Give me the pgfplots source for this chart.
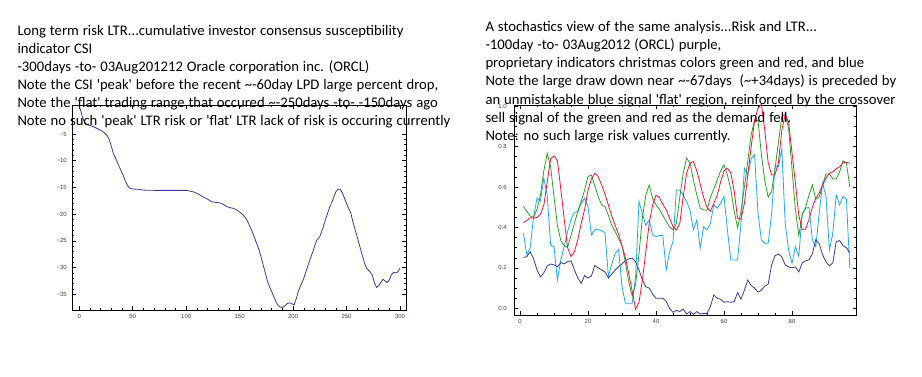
\documentclass[border=0pt]{standalone}
\usepackage{fontspec}
\setmainfont{Carlito}
\newfontfamily\tickfont{Liberation Sans}
\usepackage{pgfplots}
\pgfplotsset{compat=1.18}
\definecolor{ltr}{HTML}{3A3A98}
\definecolor{cred}{HTML}{F0143C}
\definecolor{cgreen}{HTML}{2AA02A}
\definecolor{clblue}{HTML}{22A6F0}
\definecolor{tickc}{HTML}{4A4030}
\newcommand\txtfont{\fontsize{14.67}{18}\selectfont\spaceskip 3.95pt plus 1pt minus 1pt\relax}

\pgfplotstableread{
x y
0 0.2
1 -0.4
3 -1.8
5 -2.9
8 -3.3
10 -3.4
13 -3.6
16 -3.9
20 -4.3
23 -4.7
26 -5.3
28 -6.0
30 -7.3
32 -8.7
35 -10.0
38 -11.4
41 -12.7
43 -13.8
45 -14.6
47 -15.1
50 -15.3
55 -15.35
60 -15.5
70 -15.55
80 -15.55
90 -15.55
100 -15.55
104 -15.7
108 -15.9
112 -16.3
116 -16.8
120 -17.2
124 -17.7
128 -17.8
132 -17.9
135 -18.2
138 -18.6
141 -18.8
144 -18.9
147 -19.2
150 -19.6
153 -20.1
156 -20.8
159 -22.0
162 -23.4
165 -25.0
168 -26.6
170 -28.0
172 -29.5
174 -31.0
176 -32.5
178 -33.6
180 -34.5
182 -35.5
184 -36.4
186 -37.1
188 -37.4
191 -37.4
193 -37.0
195 -36.7
197 -36.6
199 -36.8
201 -37.0
203 -35.8
205 -34.4
207 -33.4
210 -32.0
213 -30.2
216 -28.4
219 -26.7
222 -24.9
225 -24.2
228 -22.5
231 -20.6
234 -18.8
237 -17.4
240 -15.8
242 -15.3
244 -15.35
246 -16.0
248 -17.0
251 -18.5
254 -19.8
256 -21.5
258 -22.9
261 -25.0
264 -27.2
267 -29.3
269 -30.2
272 -30.8
274 -31.4
276 -32.8
278 -33.7
280 -33.4
282 -32.8
284 -32.2
286 -32.5
288 -32.8
290 -32.3
292 -31.3
294 -30.9
296 -31.0
298 -30.8
300 -30.1
}\csitable

\pgfplotstableread{
x dark red green light
1 0.252 0.424 0.505 0.371
2 0.255 0.435 0.48 0.264
3 0.28 0.448 0.457 0.30
4 0.245 0.446 0.45 0.454
5 0.19 0.45 0.49 0.545
6 0.155 0.465 0.56 0.53
7 0.175 0.51 0.68 0.644
8 0.21 0.625 0.767 0.56
9 0.219 0.74 0.70 0.313
10 0.215 0.754 0.553 0.305
11 0.206 0.73 0.41 0.14
12 0.226 0.59 0.335 0.24
13 0.22 0.44 0.31 0.305
14 0.231 0.30 0.302 0.38
15 0.235 0.256 0.36 0.44
16 0.19 0.28 0.42 0.475
17 0.15 0.34 0.48 0.479
18 0.124 0.42 0.53 0.52
19 0.162 0.49 0.585 0.545
20 0.15 0.585 0.652 0.503
21 0.16 0.64 0.66 0.363
22 0.212 0.668 0.605 0.388
23 0.2 0.652 0.553 0.391
24 0.19 0.61 0.512 0.384
25 0.18 0.565 0.503 0.375
26 0.15 0.51 0.46 0.157
27 0.17 0.455 0.41 0.22
28 0.19 0.41 0.38 0.272
29 0.206 0.365 0.345 0.292
30 0.22 0.31 0.31 0.107
31 0.235 0.25 0.225 0.025
32 0.245 0.17 0.13 0.025
33 0.248 0.085 0.06 0.025
34 0.23 -0.005 0.12 0.157
35 0.19 0.03 0.27 0.528
36 0.14 0.14 0.45 0.47
37 0.107 0.28 0.56 0.41
38 0.1 0.42 0.61 0.437
39 0.07 0.51 0.545 0.363
40 0.05 0.56 0.512 0.355
41 0.05 0.548 0.49 0.36
42 0.05 0.515 0.46 0.36
43 0.035 0.487 0.43 0.19
44 0.0 0.445 0.403 0.28
45 -0.02 0.405 0.388 0.33
46 -0.01 0.388 0.42 0.585
47 -0.016 0.42 0.55 0.586
48 -0.003 0.553 0.668 0.561
49 -0.028 0.668 0.743 0.528
50 -0.016 0.718 0.718 0.487
51 -0.03 0.726 0.635 0.388
52 -0.016 0.68 0.561 0.437
53 -0.028 0.615 0.495 0.297
54 -0.025 0.55 0.487 0.404
55 -0.025 0.5 0.485 0.388
56 0.01 0.48 0.55 0.42
57 0.066 0.52 0.59 0.512
58 0.05 0.56 0.635 0.495
59 0.045 0.625 0.68 0.52
60 0.03 0.68 0.71 0.553
61 0.033 0.693 0.66 0.388
62 0.03 0.67 0.59 0.239
63 0.033 0.58 0.48 0.239
64 0.078 0.445 0.398 0.239
65 0.045 0.44 0.48 0.42
66 0.09 0.52 0.6 0.693
67 0.14 0.66 0.73 0.66
68 0.112 0.80 0.86 0.74
69 0.1 0.93 0.93 0.76
70 0.08 0.99 0.93 0.47
71 0.09 1.01 0.76 0.338
72 0.11 0.88 0.63 0.322
73 0.12 0.72 0.55 0.322
74 0.215 0.66 0.58 0.47
75 0.26 0.66 0.69 0.70
76 0.269 0.72 0.82 0.70
77 0.255 0.88 0.95 0.79
78 0.215 0.96 0.96 0.42
79 0.205 0.92 0.89 0.289
80 0.2 0.77 0.69 0.223
81 0.205 0.62 0.49 0.305
82 0.18 0.46 0.36 0.256
83 0.225 0.39 0.46 0.47
84 0.235 0.392 0.50 0.495
85 0.24 0.44 0.56 0.50
86 0.27 0.50 0.61 0.338
87 0.34 0.545 0.54 0.305
88 0.32 0.57 0.55 0.47
89 0.265 0.61 0.61 0.619
90 0.23 0.645 0.665 0.553
91 0.21 0.668 0.665 0.289
92 0.225 0.676 0.64 0.371
93 0.33 0.69 0.64 0.561
94 0.335 0.70 0.675 0.512
95 0.31 0.72 0.73 0.553
96 0.3 0.722 0.72 0.54
97 0.275 0.718 0.60 0.2
}\stochtable

\pgfplotsset{
  mmastyle/.style={
    scale only axis,
    anchor=south west,
    axis line style={line width=0.7pt},
    tick align=inside,
    major tick length=4pt,
    minor tick length=2.3pt,
    every tick/.style={black, line width=0.5pt},
    tick label style={font=\fontsize{6}{6}\selectfont\tickfont, text=tickc},
    /pgf/number format/assume math mode=true,
    xticklabel style={inner sep=0pt, yshift=-4.5pt},
    clip=true,
  }
}

\begin{document}
\begin{tikzpicture}
\path[use as bounding box] (0pt,0pt) rectangle (922pt,377pt);

% Left axis
\begin{axis}[mmastyle,
  at={(72pt,67pt)}, width=334pt, height=205pt,
  xmin=-6.8, xmax=305.6, ymin=-37.94, ymax=0.43,
  xtick={0,50,100,150,200,250,300},
  minor x tick num=4,
  ytick={-35,-30,-25,-20,-15,-10,-5},
  yticklabels={−35,−30,−25,−20,−15,−10,−5},
  minor y tick num=4,
  yticklabel style={inner sep=0pt, xshift=-5pt},
]
\addplot[ltr, line width=0.8pt] table[x=x,y=y] {\csitable};
\end{axis}

% Right axis
\begin{axis}[mmastyle,
  at={(514.3pt,62pt)}, width=342.4pt, height=210pt,
  xmin=-1.68, xmax=99.03, ymin=-0.033, ymax=1.006,
  xtick={0,20,40,60,80},
  minor x tick num=3,
  ytick={0,0.2,0.4,0.6,0.8,1.0},
  yticklabels={0.0,0.2,0.4,0.6,0.8,1.0},
  minor y tick num=3,
  yticklabel style={inner sep=0pt, xshift=-7.5pt},
]
\addplot[clblue, line width=0.8pt] table[x=x,y=light] {\stochtable};
\addplot[ltr, line width=0.8pt] table[x=x,y=dark] {\stochtable};
\addplot[cgreen, line width=0.8pt] table[x=x,y=green] {\stochtable};
\addplot[cred, line width=0.8pt] table[x=x,y=red] {\stochtable};
\end{axis}

% Left text
\begin{scope}[every node/.style={anchor=base west, inner sep=0pt, font=\txtfont}]
\node at (17.3pt,{(377-35.3)*1pt}) {Long term risk LTR...cumulative investor consensus susceptibility};
\node at (17.3pt,{(377-53.3)*1pt}) {indicator CSI};
\node at (17.3pt,{(377-71.3)*1pt}) {-300days -to- 03Aug201212 Oracle corporation inc. (ORCL)};
\node at (17.3pt,{(377-89.3)*1pt}) {Note the CSI \textquotesingle peak\textquotesingle\ before the recent \textasciitilde-60day LPD large percent drop,};
\node at (17.3pt,{(377-107.3)*1pt}) {Note the \textquotesingle flat\textquotesingle\ trading range that occured \textasciitilde-250days -to- -150days ago};
\node at (17.3pt,{(377-125.3)*1pt}) {Note no such \textquotesingle peak\textquotesingle\ LTR risk or \textquotesingle flat\textquotesingle\ LTR lack of risk is occuring currently};

% Right text
\node at (485.3pt,{(377-31.7)*1pt}) {A stochastics view of the same analysis...Risk and LTR...};
\node at (485.3pt,{(377-49.8)*1pt}) {-100day -to- 03Aug2012 (ORCL) purple,};
\node at (485.3pt,{(377-67.9)*1pt}) {proprietary indicators christmas colors green and red, and blue};
\node at (485.3pt,{(377-86.0)*1pt}) {Note the large draw down near \textasciitilde-67days\ \ (\textasciitilde+34days) is preceded by};
\node at (485.3pt,{(377-104.1)*1pt}) {an unmistakable blue signal \textquotesingle flat\textquotesingle\ region, reinforced by the crossover};
\node at (485.3pt,{(377-122.2)*1pt}) {sell signal of the green and red as the demand fell.};
\node at (485.3pt,{(377-140.3)*1pt}) {Note: no such large risk values currently.};
\end{scope}
\end{tikzpicture}
\end{document}
